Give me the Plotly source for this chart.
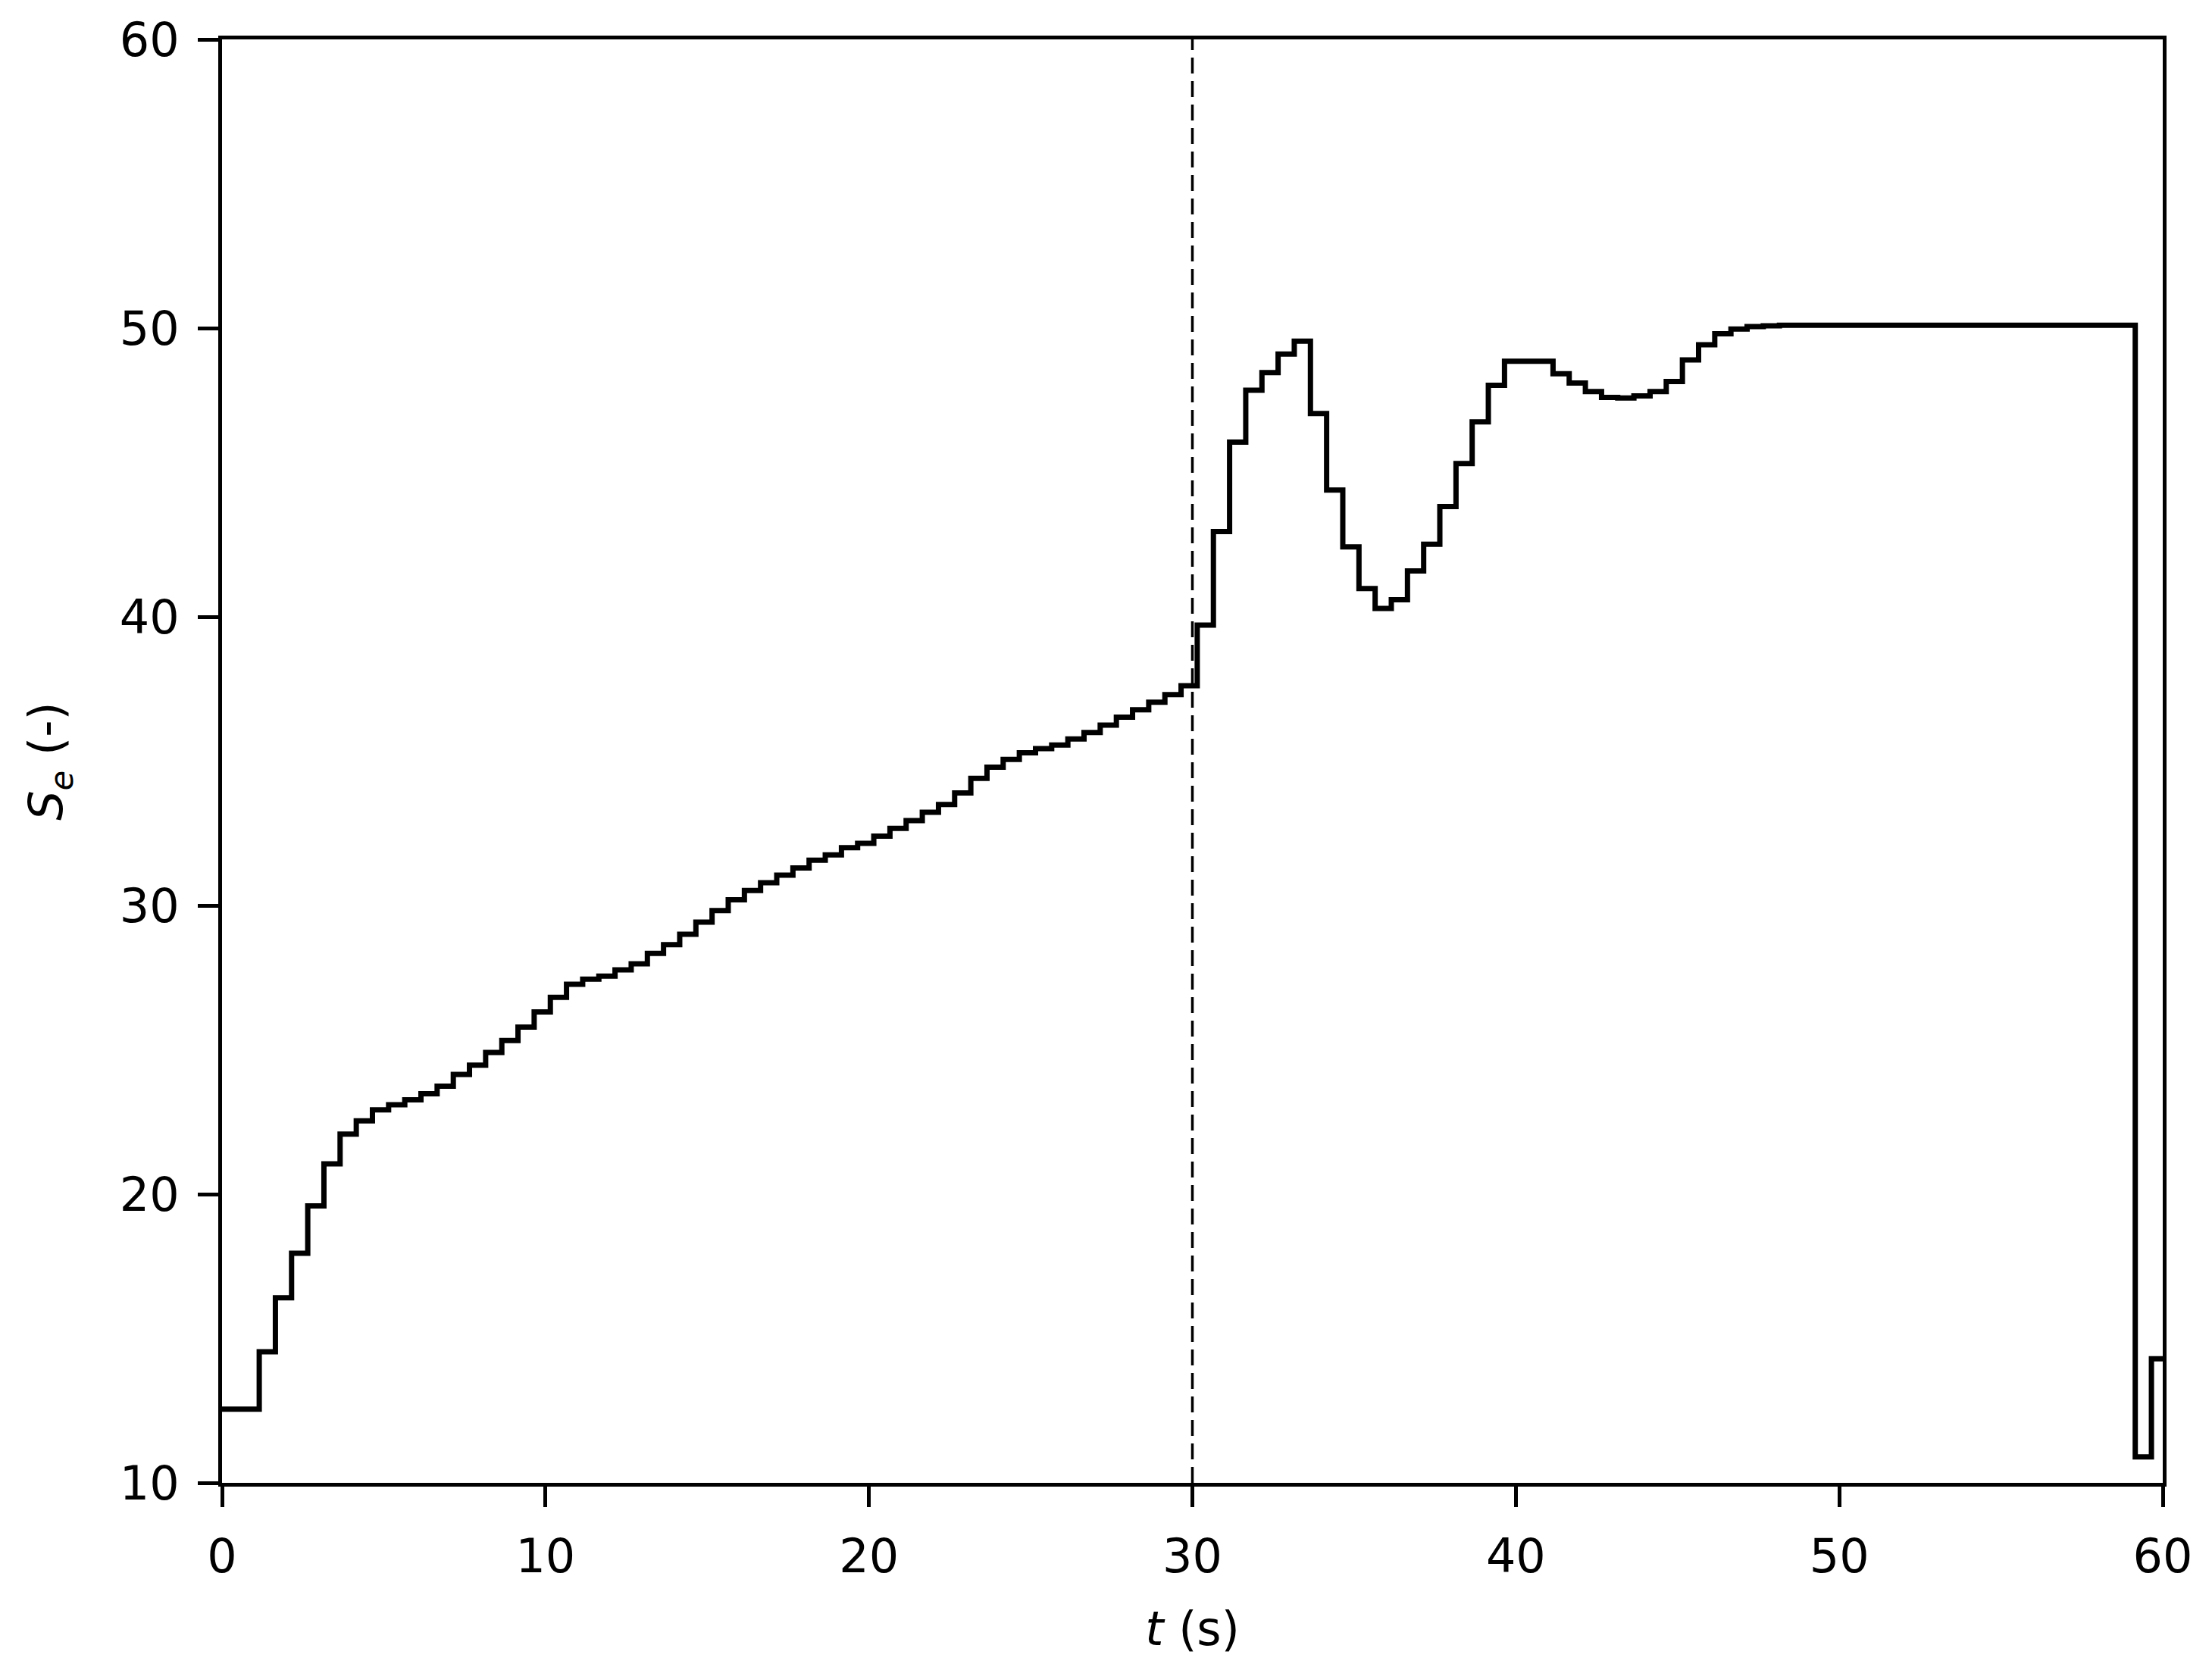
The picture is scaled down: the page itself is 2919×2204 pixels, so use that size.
import plotly.graph_objects as go

# step times (s) where the signal changes value
t = [0,
     1.15, 1.65, 2.15, 2.65, 3.15, 3.65, 4.15, 4.65, 5.15, 5.65,
     6.15, 6.65, 7.15, 7.65, 8.15, 8.65, 9.15, 9.65, 10.15, 10.65,
     11.15, 11.65, 12.15, 12.65, 13.15, 13.65, 14.15, 14.65, 15.15, 15.65,
     16.15, 16.65, 17.15, 17.65, 18.15, 18.65, 19.15, 19.65, 20.15, 20.65,
     21.15, 21.65, 22.15, 22.65, 23.15, 23.65, 24.15, 24.65, 25.15, 25.65,
     26.15, 26.65, 27.15, 27.65, 28.15, 28.65, 29.15, 29.65, 30.15, 30.65,
     31.15, 31.65, 32.15, 32.65, 33.15, 33.65, 34.15, 34.65, 35.15, 35.65,
     36.15, 36.65, 37.15, 37.65, 38.15, 38.65, 39.15, 39.65, 40.15, 40.65,
     41.15, 41.65, 42.15, 42.65, 43.15, 43.65, 44.15, 44.65, 45.15, 45.65,
     46.15, 46.65, 47.15, 47.65, 48.15, 48.65, 49.15, 49.65, 50.15, 50.65,
     51.15, 51.65, 52.15, 52.65, 53.15, 53.65, 54.15, 54.65, 55.15, 55.65,
     56.15, 56.65, 57.15, 57.65, 58.15, 58.65, 59.15, 59.65,
     60]

# S_e value held from each step time
se = [12.55,
      14.54, 16.41, 17.95, 19.59, 21.05, 22.08, 22.54, 22.92, 23.10, 23.27,
      23.48, 23.74, 24.15, 24.47, 24.91, 25.32, 25.79, 26.31, 26.82, 27.27,
      27.45, 27.55, 27.77, 27.98, 28.34, 28.64, 29.00, 29.42, 29.82, 30.20,
      30.52, 30.79, 31.05, 31.30, 31.57, 31.75, 32.00, 32.15, 32.40, 32.67,
      32.94, 33.23, 33.50, 33.90, 34.40, 34.79, 35.06, 35.29, 35.43, 35.56,
      35.77, 35.99, 36.25, 36.52, 36.78, 37.04, 37.30, 37.61, 39.71, 42.95,
      46.05, 47.85, 48.46, 49.10, 49.55, 47.04, 44.39, 42.42, 40.98, 40.29,
      40.59, 41.59, 42.51, 43.82, 45.31, 46.75, 48.02, 48.85, 48.85, 48.85,
      48.42, 48.10, 47.80, 47.60, 47.58, 47.65, 47.80, 48.15, 48.90, 49.42,
      49.80, 49.97, 50.05, 50.08, 50.10, 50.10, 50.10, 50.10, 50.10, 50.10,
      50.10, 50.10, 50.10, 50.10, 50.10, 50.10, 50.10, 50.10, 50.10, 50.10,
      50.10, 50.10, 50.10, 50.10, 50.10, 50.10, 10.90, 14.30,
      14.30]

event_time = 30
x_ticks = [0, 10, 20, 30, 40, 50, 60]
y_ticks = [10, 20, 30, 40, 50, 60]

FONT = "DejaVu Sans"
FS = 62

fig = go.Figure()
fig.add_vline(x=event_time, line=dict(color="black", width=3.5, dash="21px,10px"))
fig.add_trace(go.Scatter(x=t, y=se, mode="lines", line_shape="hv",
                         line=dict(color="black", width=7), showlegend=False))

axis_common = dict(showline=True, linecolor="black", linewidth=5, mirror=True,
                   ticks="outside", ticklen=27, tickwidth=5, tickcolor="black",
                   showgrid=False, zeroline=False,
                   tickfont=dict(family=FONT, size=FS, color="black"))

fig.update_xaxes(range=[0, 60], tickvals=x_ticks, ticklabelstandoff=12,
                 title=dict(text="<i>t</i> (s)", font=dict(family=FONT, size=FS, color="black"),
                            standoff=40),
                 **axis_common)
fig.update_yaxes(range=[10, 60], tickvals=y_ticks, ticklabelstandoff=12,
                 title=dict(text="<i>S<sub>e</sub></i> (-)", font=dict(family=FONT, size=FS, color="black"),
                            standoff=56),
                 **axis_common)

# page body has an 8px default margin, so the figure is offset by that much
fig.update_layout(width=2911, height=2196,
                  margin=dict(l=285, r=65, t=44, b=247, autoexpand=False),
                  paper_bgcolor="white", plot_bgcolor="white",
                  font=dict(family=FONT, size=FS, color="black"))

fig.write_html("out.html")
